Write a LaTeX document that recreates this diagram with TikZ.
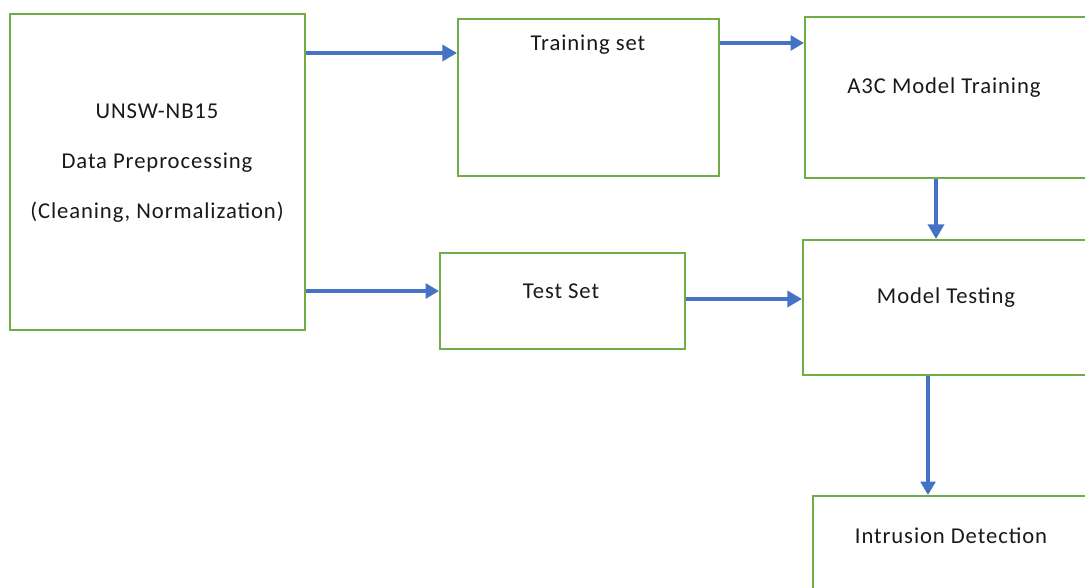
\documentclass[tikz,border=0pt]{standalone}
\usepackage{fontspec}
\setmainfont{Carlito}
\newfontfamily\wordfont[LetterSpace=4]{Carlito}
\usepackage{tikz}
\usetikzlibrary{positioning}
\usetikzlibrary{arrows.meta}
\definecolor{boxgreen}{RGB}{112,173,71}
\definecolor{flowblue}{RGB}{68,114,196}
\tikzstyle{stage} = [rectangle,draw=boxgreen,line width=1.5pt,inner sep=0pt]
\tikzstyle{caption} = [align=center,font=\wordfont\fontsize{17}{37.5}\selectfont,text=black!90]

\begin{document}
\begin{tikzpicture}[x=0.75pt,y=-0.75pt]
	
	\tikzstyle{flow}=[draw=flowblue,line width=2.6pt,-{Triangle[length=11pt,width=12pt]}];
	\tikzstyle{flowthick}=[draw=flowblue,line width=3.6pt,-{Triangle[length=10pt,width=11pt]}];
	
	\useasboundingbox (0,0) rectangle (1085,588);
	\clip (0,0) rectangle (1085,588);
	
	\node (prep) [stage,minimum width=295*0.75pt,minimum height=316*0.75pt] at (157.5,172) {};
	\node (train) [stage,minimum width=261*0.75pt,minimum height=157*0.75pt] at (588.5,97.5) {};
	\node (a3c) [stage,minimum width=290*0.75pt,minimum height=161*0.75pt] at (950,97.5) {};
	\node (testset) [stage,minimum width=245*0.75pt,minimum height=96*0.75pt] at (562.5,301) {};
	\node (test) [stage,minimum width=292*0.75pt,minimum height=135*0.75pt] at (949,307.5) {};
	\node (intr) [stage,minimum width=282*0.75pt,minimum height=120*0.75pt] at (954,556) {};
	
	\node (prepText) [caption] at (157,163) {UNSW-NB15\\Data Preprocessing\\(Cleaning, Normalization)};
	\node (trainText) [caption] at (588,45) {Training set};
	\node (a3cText) [caption] at (944,88) {A3C Model Training};
	\node (testsetText) [caption] at (561,291) {Test Set};
	\node (testText) [caption] at (946,298) {Model Testing};
	\node (intrText) [caption] at (951,536) {Intrusion Detection};
	
	\draw[flow] (prep.east |- 0,53) -- (train.west |- 0,53);
	\draw[flow] (testset.east |- 0,299) -- (test.west |- 0,299);
	\draw[flow] (a3c.south -| 936,0) -- (test.north -| 936,0);
	\draw[flowthick] (prep.east |- 0,291) -- (testset.west |- 0,291);
	\draw[flowthick] (train.east |- 0,43) -- (a3c.west |- 0,43);
	\draw[flowthick] (test.south -| 928,0) -- (intr.north -| 928,0);
\end{tikzpicture}
\end{document}
